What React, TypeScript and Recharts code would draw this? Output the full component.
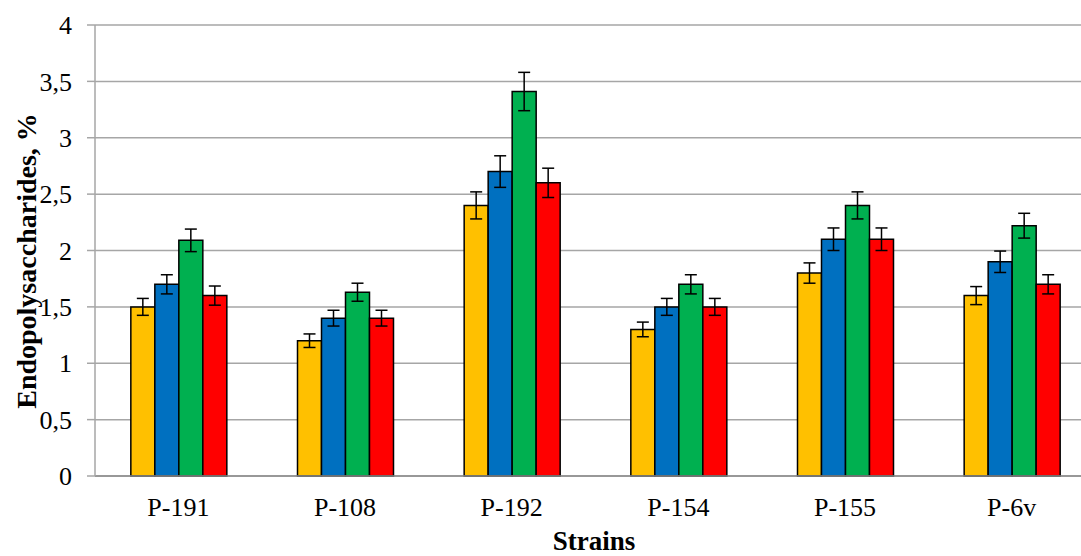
import React from 'react';
import { BarChart, Bar, XAxis, YAxis, CartesianGrid, ErrorBar } from 'recharts';

const categories = ['P-191', 'P-108', 'P-192', 'P-154', 'P-155', 'P-6v'];
const series1 = [1.5, 1.2, 2.4, 1.3, 1.8, 1.6];
const series2 = [1.7, 1.4, 2.7, 1.5, 2.1, 1.9];
const series3 = [2.09, 1.63, 3.41, 1.7, 2.4, 2.22];
const series4 = [1.6, 1.4, 2.6, 1.5, 2.1, 1.7];
const err1 = [0.075, 0.06, 0.12, 0.065, 0.09, 0.08];
const err2 = [0.085, 0.07, 0.14, 0.075, 0.1, 0.095];
const err3 = [0.1, 0.08, 0.17, 0.085, 0.12, 0.11];
const err4 = [0.085, 0.07, 0.13, 0.075, 0.1, 0.085];
const yTicks = [0, 0.5, 1, 1.5, 2, 2.5, 3, 3.5, 4];

const colors = ['#FFC000', '#0070C0', '#00B050', '#FF0000'];

const data = categories.map((name, i) => ({
  name,
  s1: series1[i], e1: err1[i],
  s2: series2[i], e2: err2[i],
  s3: series3[i], e3: err3[i],
  s4: series4[i], e4: err4[i],
}));

const font = "'Liberation Serif', 'Times New Roman', serif";

const YLabel = () => (
  <text
    x={36}
    y={261}
    transform="rotate(-90, 36, 261)"
    textAnchor="middle"
    fontFamily={font}
    fontWeight="bold"
    fontSize={28}
    fill="#000"
  >
    Endopolysaccharides, %
  </text>
);

const XLabel = () => (
  <text
    x={594}
    y={550}
    textAnchor="middle"
    fontFamily={font}
    fontWeight="bold"
    fontSize={27}
    fill="#000"
  >
    Strains
  </text>
);

export default function App() {
  const keys = [
    ['s1', 'e1'],
    ['s2', 'e2'],
    ['s3', 'e3'],
    ['s4', 'e4'],
  ];
  const tickStyle = { fill: '#000', fontSize: 26, fontFamily: font };
  return (
    <div style={{ position: 'absolute', left: 0, top: 0, width: 1081, height: 556, overflow: 'hidden', background: '#fff', fontFamily: font }}>
      <BarChart
        width={1100}
        height={556}
        data={data}
        margin={{ top: 25, right: 5, bottom: 0, left: 0 }}
        barCategoryGap="21.5%"
        barGap={0}
      >
        <CartesianGrid vertical={false} stroke="#A6A6A6" strokeWidth={1.5} />
        <XAxis
          dataKey="name"
          height={80}
          tickLine={false}
          tickSize={0}
          tickMargin={22}
          axisLine={{ stroke: '#8C8C8C', strokeWidth: 1.5 }}
          tick={tickStyle}
          label={<XLabel />}
        />
        <YAxis
          width={95}
          domain={[0, 4]}
          ticks={yTicks}
          interval={0}
          tickFormatter={(v: number) => String(v).replace('.', ',')}
          tickSize={8}
          tickMargin={15}
          axisLine={{ stroke: '#A6A6A6', strokeWidth: 1.5 }}
          tickLine={{ stroke: '#A6A6A6', strokeWidth: 1.5 }}
          tick={tickStyle}
          label={<YLabel />}
        />
        {keys.map(([k, e], i) => (
          <Bar key={k} dataKey={k} fill={colors[i]} stroke="#000" strokeWidth={1.5} isAnimationActive={false}>
            <ErrorBar dataKey={e} width={6} stroke="#000" strokeWidth={1.5} />
          </Bar>
        ))}
      </BarChart>
    </div>
  );
}
